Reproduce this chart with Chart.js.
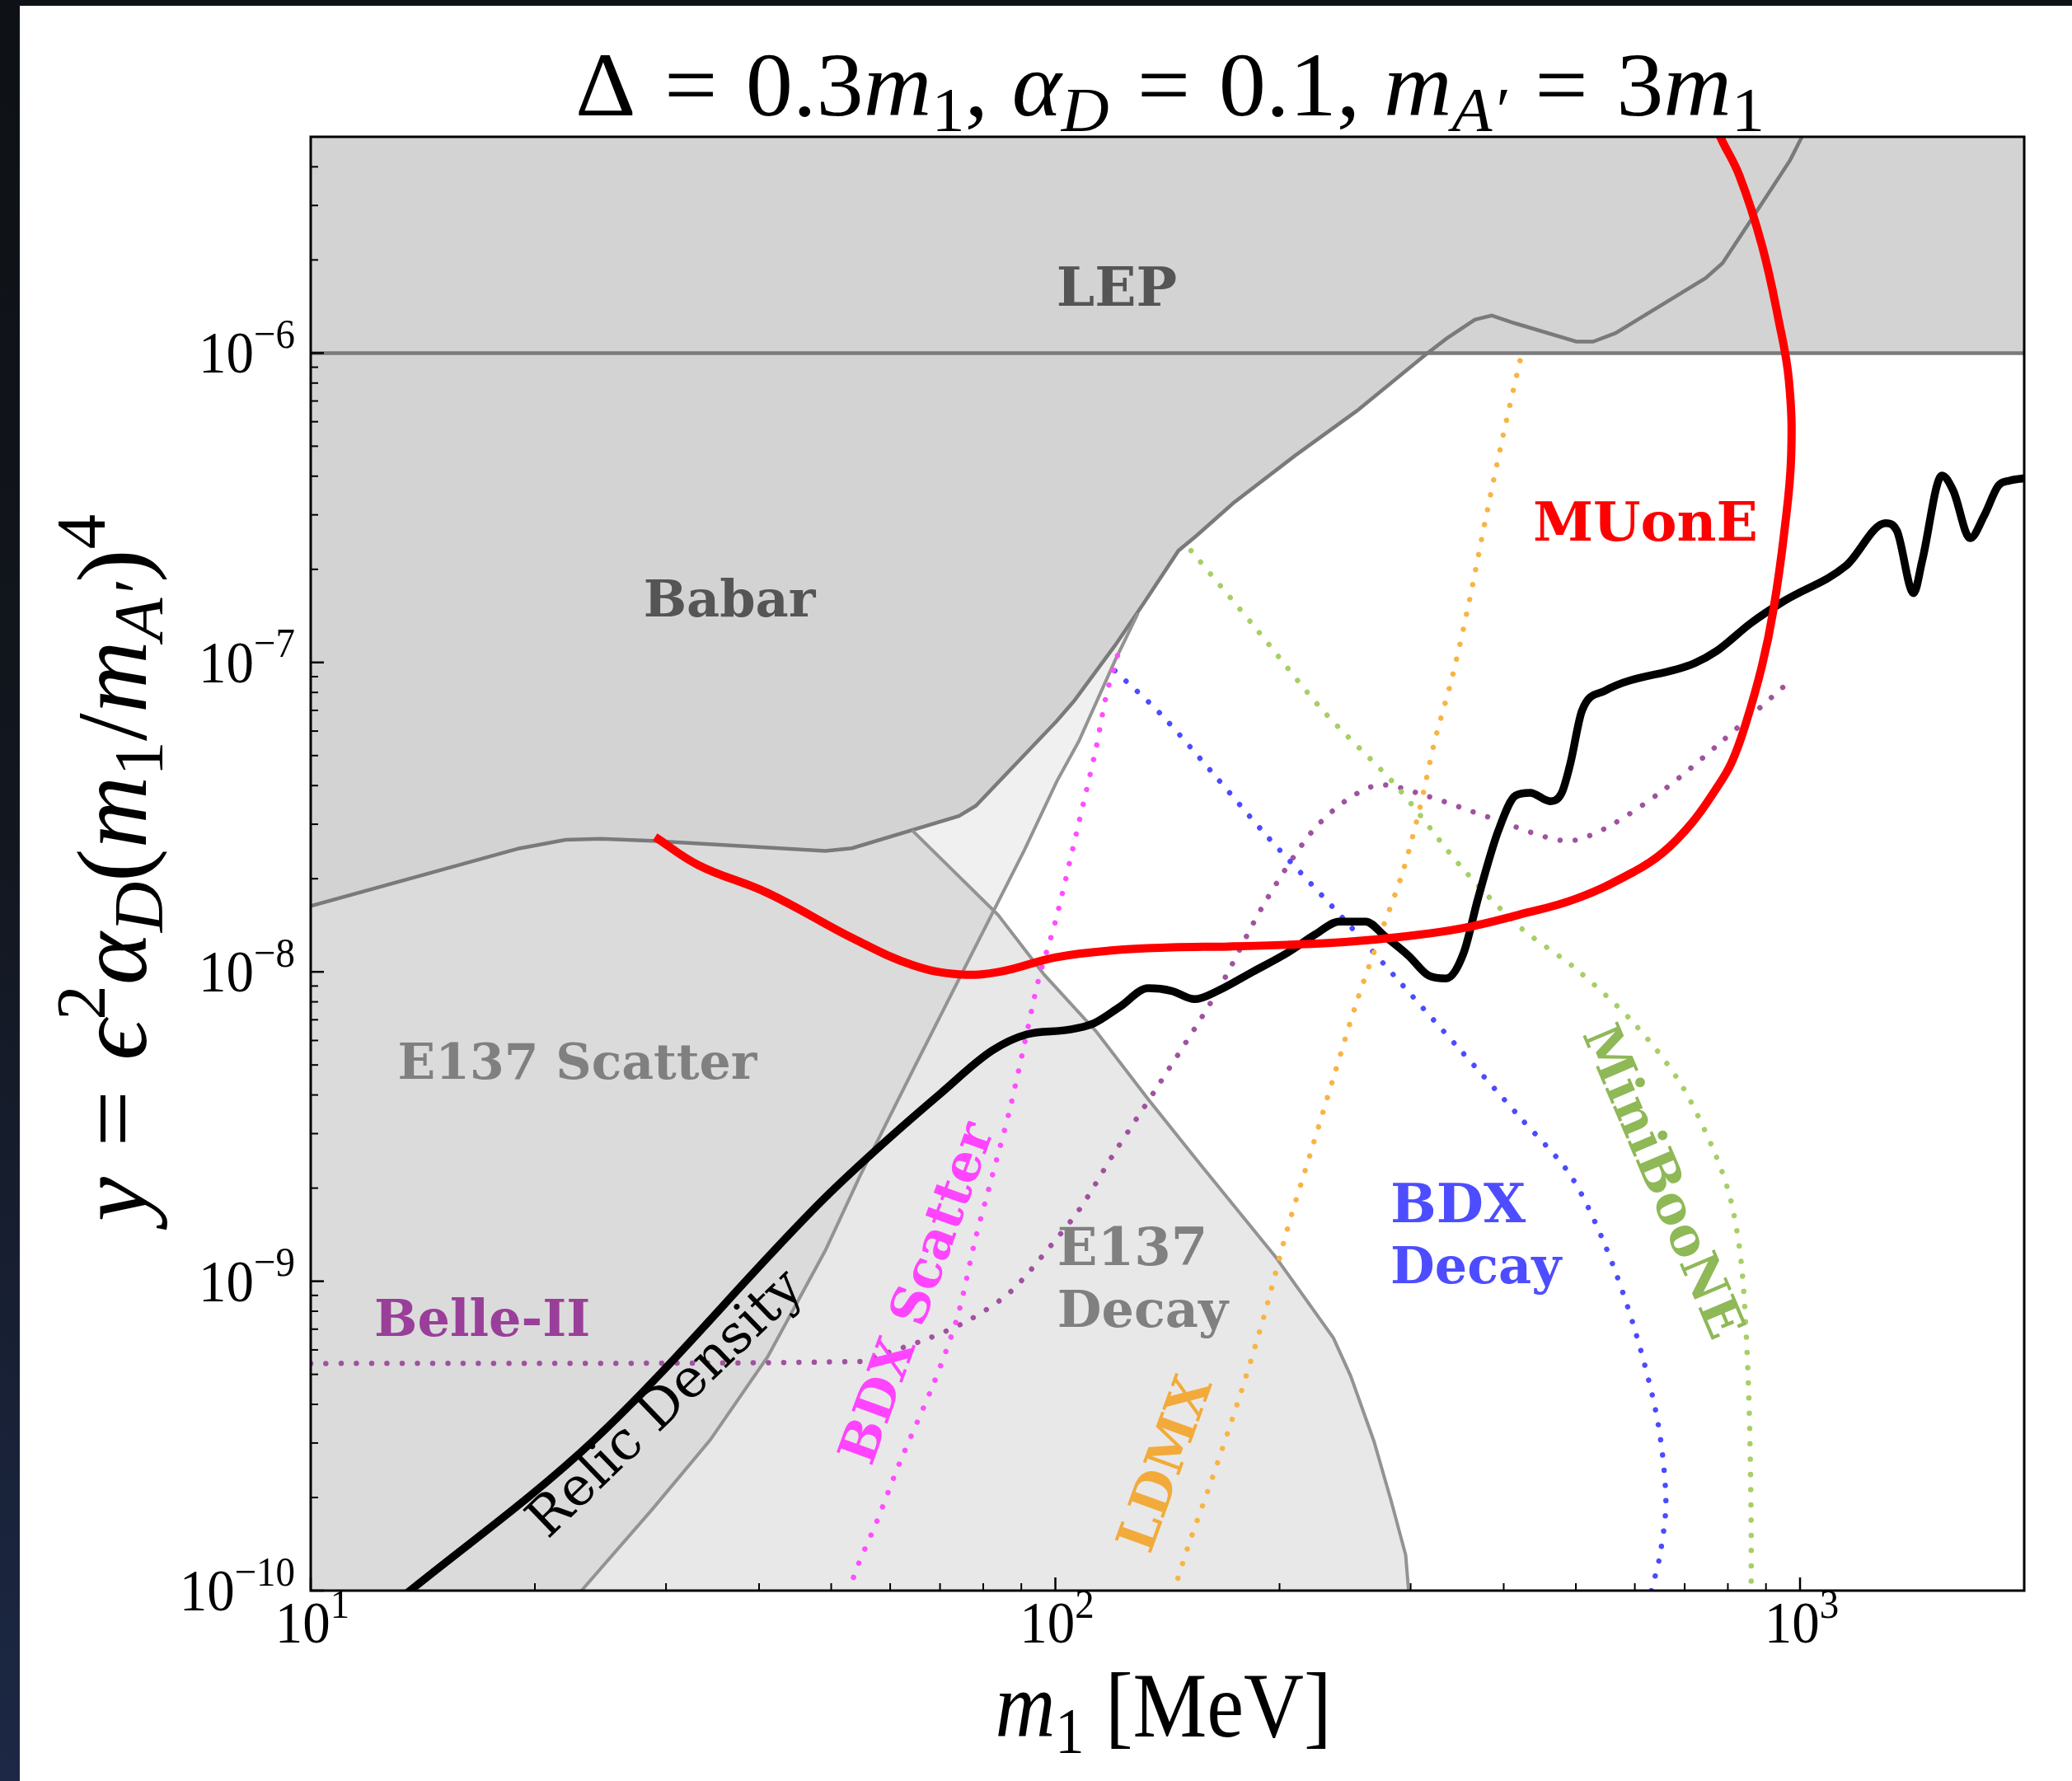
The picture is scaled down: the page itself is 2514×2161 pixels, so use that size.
<!DOCTYPE html>
<html>
<head>
<meta charset="utf-8">
<script src="https://cdn.jsdelivr.net/npm/chart.js@4.4.1/dist/chart.umd.min.js"></script>
<style>
  html, body { margin: 0; padding: 0; width: 2514px; height: 2161px; overflow: hidden; }
  body { position: relative; background: linear-gradient(to bottom, #0e1115 0%, #12161e 45%, #1c2845 100%); }
  .sheet { position: absolute; left: 24px; top: 7px; right: 0; bottom: 0; background: #fff; }
  #chart { position: absolute; left: 0; top: 0; }
</style>
</head>
<body>
<div class="sheet"></div>
<canvas id="chart" width="2514" height="2161"></canvas>
<script>
// axis ticks (labels are 10^exponent)
const xTicks = [10, 100, 1000];
const xTickExps = ['1', '2', '3'];
const yTicks = [1e-10, 1e-9, 1e-8, 1e-7, 1e-6];
const yTickExps = ['−10', '−9', '−8', '−7', '−6'];

// excluded regions: [m1 (MeV), y]
const lepEdge = [[10, 1e-6], [2000, 1e-6]];
const babarEdge = [
  [10, 1.633e-8], [19.05, 2.506e-8], [21.98, 2.67e-8], [24.5, 2.69e-8], [28.75, 2.65e-8],
  [49.1, 2.46e-8], [53.3, 2.51e-8], [74.2, 3.19e-8], [78.2, 3.44e-8], [100.5, 6.48e-8],
  [106, 7.52e-8], [120.2, 1.133e-7], [131.4, 1.553e-7], [146.3, 2.298e-7], [154.7, 2.568e-7],
  [173.3, 3.272e-7], [209.8, 4.66e-7], [254.1, 6.51e-7], [313, 9.81e-7], [335.6, 1.117e-6],
  [365.9, 1.283e-6], [385.5, 1.322e-6], [413.3, 1.25e-6], [500.7, 1.089e-6], [527.3, 1.089e-6],
  [565.3, 1.16e-6], [746.9, 1.748e-6], [787, 1.953e-6], [858.6, 2.684e-6], [969.4, 4.195e-6],
  [1004, 4.956e-6], [1016.5, 5.5e-6]
];
const e137ScatterEdge = [
  [23.1, 1e-10], [28.75, 1.831e-10], [34.4, 3.07e-10], [41.1, 5.71e-10], [49.1, 1.257e-9],
  [54.7, 2.2e-9], [64.7, 4.93e-9], [75.4, 1.02e-8], [90.9, 2.48e-8], [100.5, 4.14e-8],
  [107.5, 5.56e-8], [120.2, 1.012e-7], [129.1, 1.442e-7]
];
const e137DecayEdge = [
  [64.2, 2.87e-8], [83.75, 1.528e-8], [96.6, 9.79e-9], [113.5, 6.41e-9], [133.3, 3.87e-9],
  [156.6, 2.385e-9], [197.5, 1.2e-9], [236.3, 6.55e-10], [249.2, 4.94e-10], [267.8, 3.04e-10],
  [282.4, 1.952e-10], [295.4, 1.304e-10], [298.1, 1e-10], [298.8, 8.5e-11]
];

// projections and relic target
const muone = [
  [29.0, 2.73e-8], [33.2, 2.21e-8], [41.1, 1.797e-8], [53.8, 1.273e-8], [64.3, 1.052e-8],
  [74.2, 9.82e-9], [84.1, 1.0e-8], [100.1, 1.114e-8], [119.8, 1.174e-8], [143.2, 1.199e-8],
  [171.2, 1.208e-8], [204.8, 1.223e-8], [244.8, 1.248e-8], [292.8, 1.299e-8], [350.2, 1.38e-8],
  [418.6, 1.528e-8], [500.7, 1.724e-8], [598.6, 2.107e-8], [654.6, 2.43e-8], [715.8, 3.03e-8],
  [769, 3.86e-8], [808.6, 4.73e-8], [843.7, 6.24e-8], [889, 9.75e-8], [920.5, 1.469e-7],
  [953, 2.666e-7], [973, 4.66e-7], [966.2, 8.15e-7], [936.2, 1.274e-6], [889, 2.227e-6],
  [828.8, 3.75e-6], [780, 5.05e-6], [766.6, 5.77e-6]
];
const relicDensity = [
  [13.1, 9.3e-11], [24.03, 3.07e-10], [49.1, 1.865e-9], [58.75, 2.79e-9], [70, 4.03e-9],
  [82.3, 5.57e-9], [91.6, 6.28e-9], [103.8, 6.49e-9], [112.5, 6.81e-9], [121.9, 7.69e-9],
  [133.3, 8.85e-9], [143.2, 8.68e-9], [153.8, 8.16e-9], [165.2, 8.68e-9], [183.9, 9.99e-9],
  [204.8, 1.151e-8], [223.9, 1.326e-8], [240.5, 1.454e-8], [260.8, 1.454e-8], [277.5, 1.299e-8],
  [298.1, 1.127e-8], [317.3, 9.72e-9], [334.7, 9.52e-9], [353.4, 1.151e-8], [369.4, 1.724e-8],
  [393.3, 2.854e-8], [414.9, 3.71e-8], [434, 3.79e-8], [461.9, 3.56e-8], [478.6, 3.79e-8],
  [491.7, 4.73e-8], [509.5, 6.98e-8], [546.4, 8.09e-8], [721.1, 9.94e-8], [773.2, 1.09e-7],
  [858.6, 1.339e-7], [953, 1.583e-7], [1153, 2.054e-7], [1303, 2.82e-7], [1349, 2.666e-7],
  [1421, 1.675e-7], [1459, 2.132e-7], [1551, 4.017e-7], [1606, 3.59e-7], [1692, 2.52e-7],
  [1767, 2.98e-7], [1846, 3.725e-7], [1911, 3.87e-7], [2006, 3.94e-7]
];
const belle2 = [
  [10, 5.42e-10], [54.7, 5.5e-10], [58.75, 5.81e-10], [67.8, 6.56e-10], [76.8, 7.52e-10],
  [87.1, 9.26e-10], [98.7, 1.307e-9], [108, 1.722e-9], [119.8, 2.584e-9], [138.1, 4.37e-9],
  [165.2, 8.68e-9], [190.6, 1.656e-8], [220, 2.796e-8], [244.8, 3.56e-8], [272.5, 4.02e-8],
  [314.6, 3.71e-8], [382.8, 3.155e-8], [483.6, 2.65e-8], [547.6, 2.91e-8], [654.6, 3.86e-8],
  [773.2, 5.38e-8], [953, 8.4e-8]
];
const miniBooNE = [
  [152.1, 2.298e-7], [185.8, 1.29e-7], [228.8, 6.98e-8], [286.9, 3.99e-8], [350.2, 2.194e-8],
  [418.6, 1.409e-8], [500.7, 1.02e-8], [598.6, 6.81e-9], [690.6, 4.37e-9], [769, 2.584e-9],
  [808.6, 1.798e-9], [835.5, 1.095e-9], [852.8, 4.51e-10], [859.7, 1.685e-10], [859.7, 9e-11]
];
const bdxDecay = [
  [120.2, 9.4e-8], [138.2, 6.85e-8], [161.6, 4.47e-8], [192.3, 2.749e-8], [244.8, 1.467e-8],
  [292.8, 9.04e-9], [350.2, 5.57e-9], [418.6, 3.43e-9], [491.7, 2.2e-9], [547.6, 1.302e-9],
  [598.6, 7.1e-10], [643.2, 3.58e-10], [660.5, 1.952e-10], [648.6, 1.304e-10], [631.7, 1e-10],
  [625, 8.9e-11]
];
const ldmx = [
  [420.7, 9.45e-7], [399.2, 5.41e-7], [379, 2.98e-7], [359.7, 1.583e-7], [341.5, 9.06e-8],
  [323.1, 5.56e-8], [309, 3.42e-8], [292.8, 2.107e-8], [272.5, 1.299e-8], [253.9, 8.0e-9],
  [236.3, 4.55e-9], [220, 2.584e-9], [204.8, 1.469e-9], [190.6, 7.7e-10], [177.5, 4.37e-10],
  [162.3, 2.295e-10], [151.1, 1.413e-10], [144.4, 1e-10], [143, 8.9e-11]
];
const bdxScatter = [
  [121.2, 1.051e-7], [117, 7.8e-8], [113.5, 5.34e-8], [107.5, 3.03e-8], [100.1, 1.467e-8],
  [94.9, 9.41e-9], [90.8, 5.79e-9], [86.8, 3.57e-9], [82.3, 2.2e-9], [78, 1.355e-9],
  [73.9, 7.7e-10], [68.8, 4.74e-10], [61.8, 2.59e-10], [57.5, 1.661e-10], [53.6, 1.109e-10],
  [52.8, 8.9e-11]
];

// text placed in data coordinates
const regionLabels = [
  { text: 'LEP', at: [120.9, 1.637e-6], color: '#555555', size: 66, bold: true },
  { text: 'Babar', at: [36.5, 1.616e-7], color: '#555555', size: 62, bold: true },
  { text: 'E137 Scatter', at: [22.8, 5.14e-9], color: '#808080', size: 60, bold: true },
  { text: 'E137', at: [100.6, 1.295e-9], color: '#808080', size: 64, bold: true, align: 'left' },
  { text: 'Decay', at: [100.6, 8.15e-10], color: '#808080', size: 62, bold: true, align: 'left' },
  { text: 'Belle-II', at: [12.17, 7.61e-10], color: '#993f99', size: 62, bold: true, align: 'left' },
  { text: 'Relic Density', at: [30.1, 3.97e-10], color: '#000000', size: 65, bold: false, angle: -44 },
  { text: 'BDX Scatter', at: [65.8, 9.08e-10], color: '#ff44ff', size: 63, bold: true, angle: -70 },
  { text: 'LDMX', at: [141.8, 2.55e-10], color: '#f2aa3a', size: 64, bold: true, angle: -70 },
  { text: 'BDX', at: [281.8, 1.793e-9], color: '#4d4dff', size: 66, bold: true, align: 'left' },
  { text: 'Decay', at: [281.8, 1.128e-9], color: '#4d4dff', size: 62, bold: true, align: 'left' },
  { text: 'MiniBooNE', at: [648.4, 2.078e-9], color: '#8fb857', size: 63, bold: true, angle: 67 },
  { text: 'MUonE', at: [620, 2.862e-7], color: '#ff0000', size: 66, bold: true }
];

const MATH = "'Liberation Serif', 'DejaVu Serif', serif";
const LABEL = "'DejaVu Serif', serif";
const STRETCH = 1.08; // the figure's math text is slightly taller than wide

const titleParts = [['Δ', 'r'], ['=', 'op'], ['0.3', 'r'], ['m', 'i'], ['1', 'sub'], [', ', 'r'], ['α', 'i'], ['D', 'isub'],
  ['=', 'op'], ['0.1, ', 'r'], ['m', 'i'], ['A′', 'isub'], ['=', 'op'], ['3', 'r'], ['m', 'i'], ['1', 'sub']];
const yTitleParts = [['y', 'i'], ['=', 'op'], ['ϵ', 'i'], ['2', 'sup'], ['α', 'i'], ['D', 'isub'],
  ['(', 'r'], ['m', 'i'], ['1', 'sub'], ['/', 'r'], ['m', 'i'], ['A′', 'isub'], [')', 'r'], ['4', 'sup']];
const xTitleParts = [['m', 'i'], ['1', 'sub'], [' [MeV]', 'r']];

function series(points, style) {
  return Object.assign({
    data: points.map(([x, y]) => ({ x, y })),
    fill: false, tension: 0, borderWidth: 0, borderColor: 'transparent', clip: 0,
    pointRadius: 0, pointHoverRadius: 0
  }, style);
}
function dotted(color, order) {
  return { borderColor: color, borderWidth: 6.5, borderDash: [0.01, 18.5], borderCapStyle: 'round', tension: 0.3, order };
}

// math-like text: roman, italic, sub/superscripts and spaced operators
function drawRich(ctx, parts, size, x, y, opts = {}) {
  const runs = parts.map(([text, kind]) => {
    const small = kind.endsWith('sub') || kind.endsWith('sup');
    const s = small ? size * 0.7 : size;
    const font = (kind.startsWith('i') ? 'italic ' : '') + s + 'px ' + MATH;
    ctx.font = font;
    const dy = kind.endsWith('sub') ? size * 0.17 : kind.endsWith('sup') ? -size * 0.42 : 0;
    const pad = kind === 'op' ? size * 0.3 : 0;
    return { text, font, dy, pad, w: ctx.measureText(text).width + 2 * pad };
  });
  const total = runs.reduce((acc, r) => acc + r.w, 0);
  let cx = opts.align === 'right' ? -total : opts.align === 'left' ? 0 : -total / 2;
  ctx.save();
  ctx.translate(x, y);
  ctx.scale(opts.fitW ? opts.fitW / total : 1, opts.k || 1);
  ctx.textAlign = 'left';
  ctx.textBaseline = 'alphabetic';
  for (const r of runs) {
    ctx.font = r.font;
    ctx.fillText(r.text, cx + r.pad, r.dy);
    cx += r.w;
  }
  ctx.restore();
}

const frame = {
  id: 'frame',
  afterDatasetsDraw(chart) {
    const { ctx, chartArea: a, scales: { x, y } } = chart;
    const logTicks = (lo, hi) => {
      const out = [];
      for (let d = Math.floor(Math.log10(lo)); d <= Math.ceil(Math.log10(hi)); d++) {
        for (let k = 1; k < 10; k++) {
          const v = k * Math.pow(10, d);
          if (v >= lo * 0.999 && v <= hi * 1.001) out.push({ v, major: k === 1 });
        }
      }
      return out;
    };
    ctx.save();
    ctx.strokeStyle = '#000';
    for (const t of logTicks(x.min, x.max)) {
      const px = x.getPixelForValue(t.v);
      ctx.lineWidth = t.major ? 2.5 : 2;
      ctx.beginPath();
      ctx.moveTo(px, a.bottom);
      ctx.lineTo(px, a.bottom - (t.major ? 16 : 9));
      ctx.stroke();
    }
    for (const t of logTicks(y.min, y.max)) {
      const py = y.getPixelForValue(t.v);
      ctx.lineWidth = t.major ? 2.5 : 2;
      ctx.beginPath();
      ctx.moveTo(a.left, py);
      ctx.lineTo(a.left + (t.major ? 16 : 9), py);
      ctx.stroke();
    }
    ctx.lineWidth = 3;
    ctx.strokeRect(a.left, a.top, a.right - a.left, a.bottom - a.top);
    ctx.restore();
  }
};

const annotations = {
  id: 'annotations',
  afterDraw(chart) {
    const { ctx, chartArea: a, scales: { x, y } } = chart;
    ctx.save();
    ctx.fillStyle = '#000';
    xTicks.forEach((v, i) => drawRich(ctx, [['10', 'r'], [xTickExps[i], 'sup']], 67,
      x.getPixelForValue(v) + 2, a.bottom + 63, { k: STRETCH }));
    yTicks.forEach((v, i) => drawRich(ctx, [['10', 'r'], [yTickExps[i], 'sup']], 67,
      a.left - 19, y.getPixelForValue(v) + 24, { align: 'right', k: STRETCH }));

    drawRich(ctx, titleParts, 101, (a.left + a.right) / 2 + 3, a.top - 26, { fitW: 1443, k: STRETCH });
    drawRich(ctx, xTitleParts, 104, (a.left + a.right) / 2 - 5, a.bottom + 177, { fitW: 408, k: STRETCH });
    ctx.save();
    ctx.translate(177, (a.top + a.bottom) / 2 + 5);
    ctx.scale(1, STRETCH);
    ctx.rotate(-Math.PI / 2);
    drawRich(ctx, yTitleParts, 120, 0, 0, { fitW: 858 / STRETCH });
    ctx.restore();

    ctx.textBaseline = 'middle';
    for (const l of regionLabels) {
      ctx.save();
      ctx.translate(x.getPixelForValue(l.at[0]), y.getPixelForValue(l.at[1]) + (l.angle ? 0 : 6));
      ctx.rotate((l.angle || 0) * Math.PI / 180);
      ctx.font = (l.bold ? 'bold ' : '') + l.size + 'px ' + LABEL;
      ctx.fillStyle = l.color;
      ctx.textAlign = l.align || 'center';
      ctx.fillText(l.text, 0, 0);
      ctx.restore();
    }
    ctx.restore();
  }
};

new Chart(document.getElementById('chart').getContext('2d'), {
  type: 'line',
  data: {
    datasets: [
      series(muone, { borderColor: '#ff0000', borderWidth: 10, tension: 0.4, order: 0 }),
      series(relicDensity, { borderColor: '#000000', borderWidth: 9.5, cubicInterpolationMode: 'monotone', order: 1 }),
      series(bdxScatter, dotted('#ff4dff', 2)),
      series(ldmx, dotted('#f8b444', 3)),
      series(bdxDecay, dotted('#4b4bff', 4)),
      series(miniBooNE, dotted('#a6cf66', 5)),
      series(belle2, dotted('#a052a0', 6)),
      series(e137DecayEdge, { borderColor: '#939393', borderWidth: 4, order: 7 }),
      series(e137ScatterEdge, { borderColor: '#939393', borderWidth: 4, order: 7 }),
      series(babarEdge, { borderColor: '#7a7a7a', borderWidth: 4.5, fill: 'end', backgroundColor: '#d3d3d3', order: 8 }),
      series(lepEdge, { borderColor: '#7a7a7a', borderWidth: 4.5, fill: 'end', backgroundColor: '#d3d3d3', order: 9 }),
      series([[10, 1e-10], [10, 1e-6], ...[...e137ScatterEdge].reverse()],
        { fill: 'shape', backgroundColor: 'rgba(0,0,0,0.06)', order: 10 }),
      series([[10, 1e-10], [10, 1e-6], ...e137DecayEdge],
        { fill: 'shape', backgroundColor: 'rgba(0,0,0,0.09)', order: 11 })
    ]
  },
  options: {
    responsive: false,
    animation: false,
    events: [],
    layout: { padding: { left: 0, top: 166, right: 58, bottom: 0 } },
    plugins: {
      legend: { display: false },
      tooltip: { enabled: false },
      filler: { drawTime: 'beforeDatasetsDraw' }
    },
    scales: {
      x: {
        type: 'logarithmic', min: 10, max: 2000,
        afterBuildTicks: s => { s.ticks = xTicks.map(value => ({ value })); },
        afterFit: s => { s.height = 231; },
        grid: { display: false }, border: { display: false },
        ticks: { display: false }
      },
      y: {
        type: 'logarithmic', min: 1e-10, max: 5e-6,
        afterBuildTicks: s => { s.ticks = yTicks.map(value => ({ value })); },
        afterFit: s => { s.width = 377; },
        grid: { display: false }, border: { display: false },
        ticks: { display: false }
      }
    }
  },
  plugins: [frame, annotations]
});
</script>
</body>
</html>
